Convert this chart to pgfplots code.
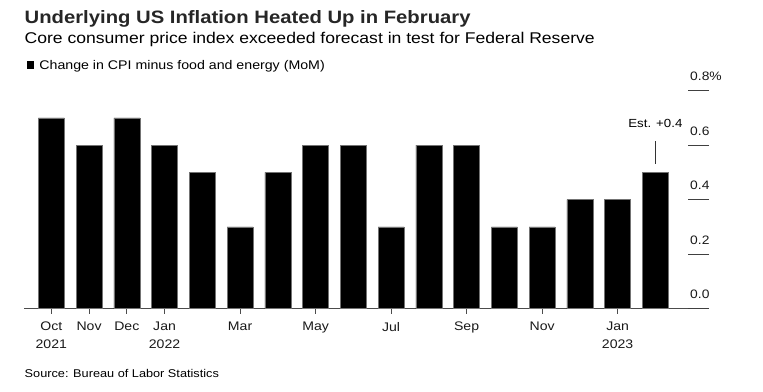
\documentclass[border=0pt]{standalone}
\usepackage{fontspec}
\setmainfont[FakeStretch=1.13]{Liberation Sans}
\usepackage{pgfplots}
\pgfplotsset{compat=1.18}
\begin{document}
\begin{tikzpicture}[x=1bp,y=1bp]
\path[use as bounding box] (0,0) rectangle (763,391);
\node[anchor=base west, inner sep=0, font=\fontsize{18}{20}\selectfont\bfseries, text=black!85] at (24.5,367.5) {Underlying US Inflation Heated Up in February};
\node[anchor=base west, inner sep=0, font=\fontsize{15.6}{18}\selectfont] at (24.5,347.5) {Core consumer price index exceeded forecast in test for Federal Reserve};
\node[anchor=base west, inner sep=0, font=\fontsize{11.3}{14}\selectfont] at (24.5,14) {Source: Bureau of Labor Statistics};
\begin{axis}[
  at={(24bp,82.5bp)}, anchor=south west,
  scale only axis, width=685bp, height=217.8bp,
  xmin=-0.723, xmax=17.42, ymin=0, ymax=0.8,
  axis x line*=bottom, axis y line=none,
  x axis line style={draw=black!70, line width=1.2bp},
  xtick={0,1,2,3,5,7,9,11,13,15},
  xticklabels={{Oct\\2021},Nov,Dec,{Jan\\2022},Mar,May,Jul,Sep,Nov,{Jan\\2023}},
  xticklabel style={align=center, yshift=-5bp, font=\fontsize{12.5}{17.5}\selectfont, text=black!90},
  tick align=outside, major tick length=5bp,
  xtick style={draw=black!70, line width=0.8bp},
  ybar, bar width=26bp, bar shift=0pt,
  clip=false,
  legend style={draw=none, fill=none, inner sep=0pt, at={(axis description cs:0,1)}, anchor=south west, xshift=2.7bp, yshift=18bp, font=\fontsize{12.6}{14}\selectfont},
  legend image code/.code={\path[draw=none, fill=black] (0bp,-4bp) rectangle (7bp,4bp); \path[draw=none, fill=none] (0bp,0bp) rectangle (10.5bp,0.1bp);},
]
\addplot[fill=black, draw=black!55, line width=0.5bp] coordinates {
(0,0.7) (1,0.6) (2,0.7) (3,0.6) (4,0.5) (5,0.3) (6,0.5) (7,0.6) (8,0.6)
(9,0.3) (10,0.6) (11,0.6) (12,0.3) (13,0.3) (14,0.4) (15,0.4) (16,0.5)};
\addlegendentry{Change in CPI minus food and energy (MoM)}
\draw[black!80, line width=0.8bp] (axis cs:16,0.531) -- (axis cs:16,0.615);
\node[anchor=base, inner sep=0, font=\fontsize{11.8}{15}\selectfont] at (axis cs:16,0.664) {Est. +0.4};
\end{axis}
\begin{axis}[
  at={(24bp,82.5bp)}, anchor=south west,
  scale only axis, width=685bp, height=217.8bp,
  xmin=-0.723, xmax=17.42, ymin=0, ymax=0.8,
  axis x line=none, axis y line*=right,
  y axis line style={draw=none},
  ytick={0,0.2,0.4,0.6,0.8},
  yticklabels={0.0,0.2,0.4,0.6,0.8\%},
  tick align=inside, major tick length=21bp,
  ytick style={draw=black!75, line width=1bp},
  yticklabel style={anchor=base west, inner sep=0pt, xshift=-19bp, yshift=10bp, font=\fontsize{12.3}{15}\selectfont, text=black!90},
]
\addplot[draw=none] coordinates {(0,0)};
\end{axis}
\end{tikzpicture}
\end{document}
